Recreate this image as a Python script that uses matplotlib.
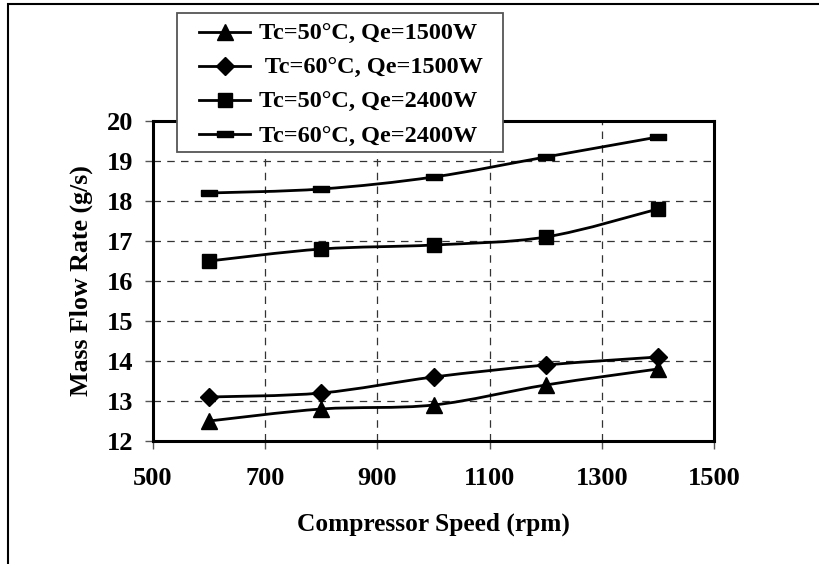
import matplotlib
matplotlib.use("Agg")
import matplotlib.pyplot as plt
from matplotlib.path import Path
from matplotlib.patches import PathPatch, Rectangle
from matplotlib.lines import Line2D
import numpy as np

plt.rcParams['font.family'] = ['Liberation Serif', 'DejaVu Serif']
plt.rcParams['font.weight'] = 'bold'

speed = [600, 800, 1000, 1200, 1400]
tc50_qe1500 = [12.5, 12.8, 12.9, 13.4, 13.8]
tc60_qe1500 = [13.1, 13.2, 13.6, 13.9, 14.1]
tc50_qe2400 = [16.5, 16.8, 16.9, 17.1, 17.8]
tc60_qe2400 = [18.2, 18.3, 18.6, 19.1, 19.6]
labels = ["Tc=50°C, Qe=1500W", " Tc=60°C, Qe=1500W",
          "Tc=50°C, Qe=2400W", "Tc=60°C, Qe=2400W"]
xticks = [500, 700, 900, 1100, 1300, 1500]
yticks = [12, 13, 14, 15, 16, 17, 18, 19, 20]

bar = [(-1.5, -0.5), (1.5, -0.5), (1.5, 0.5), (-1.5, 0.5), (-1.5, -0.5)]
markers = ['^', 'D', 's', bar]
msizes = [11, 9, 10, 11]

fig = plt.figure(figsize=(8.2, 5.64), dpi=100)
ax = fig.add_axes([153/820, 1-441/564, (714-153)/820, (441-121)/564])

def smooth_path(xs, ys):
    # Catmull-Rom style smoothing through the data points (Excel-like smoothed line)
    pts = np.column_stack([xs, ys]).astype(float)
    verts = [pts[0]]
    codes = [Path.MOVETO]
    n = len(pts)
    for i in range(n - 1):
        p0 = pts[i - 1] if i > 0 else pts[i]
        p1 = pts[i]
        p2 = pts[i + 1]
        p3 = pts[i + 2] if i + 2 < n else pts[i + 1]
        c1 = p1 + (p2 - p0) / 6.0
        c2 = p2 - (p3 - p1) / 6.0
        verts += [c1, c2, p2]
        codes += [Path.CURVE4] * 3
    return Path(verts, codes)

series = [tc50_qe1500, tc60_qe1500, tc50_qe2400, tc60_qe2400]
handles = []
for ys, m, ms, lab in zip(series, markers, msizes, labels):
    patch = PathPatch(smooth_path(speed, ys), facecolor='none', edgecolor='black',
                      lw=2, transform=ax.transData, zorder=3)
    ax.add_patch(patch)
    ax.plot(speed, ys, linestyle='none', marker=m, markersize=ms, color='black',
            zorder=4, clip_on=False)
    handles.append(Line2D([], [], color='black', lw=2, marker=m, markersize=ms, label=lab))

ax.set_xlim(500, 1500)
ax.set_ylim(12, 20)
ax.set_xticks(xticks)
ax.set_yticks(yticks)
ax.grid(True, linestyle=(0, (6, 5)), color='#333333', lw=0.9)
ax.set_axisbelow(True)
for s in ax.spines.values():
    s.set_linewidth(2.2)
    s.set_color('black')
ax.tick_params(direction='out', length=6, width=1, color='#555555', labelsize=19)
ax.tick_params(axis='x', pad=13)
ax.tick_params(axis='y', pad=8)
for t in ax.get_xticklabels() + ax.get_yticklabels():
    t.set_fontweight('bold')

ax.set_xlabel("Compressor Speed (rpm)", fontsize=18.3, fontweight='bold', labelpad=16)
ax.set_ylabel("Mass Flow Rate (g/s)", fontsize=18.6, fontweight='bold', labelpad=10)

# legend frame box (white, grey edge) drawn above the axes
fig.patches.append(Rectangle((177/820, 1-152/564), (503-177)/820, (152-13)/564,
                             transform=fig.transFigure, facecolor='white',
                             edgecolor='#555555', lw=1.3, zorder=4, figure=fig))

leg = fig.legend(handles=handles, loc='upper left',
                 bbox_to_anchor=(199/820, 1-23/564),
                 fontsize=17.5, frameon=False, handlelength=2.1,
                 handletextpad=0.35, labelspacing=0.5, borderpad=0, borderaxespad=0)
leg.set_zorder(6)
for t in leg.get_texts():
    t.set_fontweight('bold')

fig.patches.append(Rectangle((8/820, -0.1), 1.2, 1.1 - 4/564, transform=fig.transFigure,
                             fill=False, edgecolor='black', lw=1.5, figure=fig))

fig.savefig("out.png", dpi=100)
